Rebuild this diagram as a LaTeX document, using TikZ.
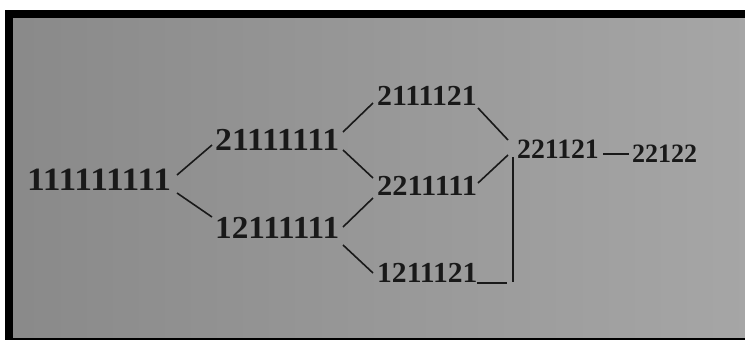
\documentclass[tikz,border=0pt]{standalone}
\usepackage{graphicx}
\usepackage{fontspec}
\setmainfont{Liberation Serif}
\usetikzlibrary{calc}
\definecolor{ink}{gray}{0.10}
\definecolor{paperL}{gray}{0.54}
\definecolor{paperR}{gray}{0.65}
\tikzset{
  num/.style={inner sep=0pt, anchor=base west, text=ink},
  link/.style={draw=ink, line width=1.6pt},
}
% bold figures at a given size, stretched sideways by a factor
\newcommand{\fig}[3]{{\fontsize{#1}{#1}\selectfont\bfseries\scalebox{#2}[1]{#3}}}
\begin{document}
\begin{tikzpicture}[x=1pt, y=-1pt]
  % page, frame and paper
  \useasboundingbox (0,0) rectangle (745,341);
  \fill[white] (0,0) rectangle (745,341);
  \fill[black] (5,10) rectangle (745,340);
  \shade[left color=paperL, right color=paperR] (13,18) rectangle (745,337);

  % the partitions
  \node[num] (n1) at (27,190)  {\fig{32.5}{1.09}{111111111}};
  \node[num] (n2) at (215,150) {\fig{32}{1.056}{21111111}};
  \node[num] (n3) at (215,238) {\fig{32}{1.04}{12111111}};
  \node[num] (n4) at (377,105) {\fig{29}{1.03}{2111121}};
  \node[num] (n5) at (377,195) {\fig{29}{1.05}{2211111}};
  \node[num] (n6) at (377,282) {\fig{29}{1.02}{1211121}};
  \node[num] (n7) at (517,158) {\fig{28}{0.99}{221121}};
  \node[num] (n8) at (632,162) {\fig{26.5}{0.98}{22122}};

  % connectors
  \draw[link] ($(n1.base west)+(150,-15)$) -- ($(n2.base west)+(-3,-5)$);
  \draw[link] ($(n1.base west)+(150,3)$)   -- ($(n3.base west)+(-3,-21)$);
  \draw[link] ($(n2.base west)+(128,-18)$) -- ($(n4.base west)+(-4,-2)$);
  \draw[link] ($(n2.base west)+(128,0)$)   -- ($(n5.base west)+(-4,-17)$);
  \draw[link] ($(n3.base west)+(128,-11)$) -- ($(n5.base west)+(-4,3)$);
  \draw[link] ($(n3.base west)+(128,7)$)   -- ($(n6.base west)+(-4,-9)$);
  \draw[link] ($(n4.base west)+(101,3)$)   -- ($(n7.base west)+(-9,-18)$);
  \draw[link] ($(n5.base west)+(101,-12)$) -- ($(n7.base west)+(-9,-3)$);
  \coordinate (vt) at ($(n7.base west)+(-4,-1)$);
  \coordinate (vb) at (vt |- n6.base);
  \draw[link] (vt) -- (vb);
  \draw[link] ($(n6.base west)+(100,1)$) -- ($(vb)+(-6,1)$);
  \draw[link] ($(n7.base west)+(86,-4)$) -- ($(n8.base west)+(-3,-8)$);
\end{tikzpicture}
\end{document}
